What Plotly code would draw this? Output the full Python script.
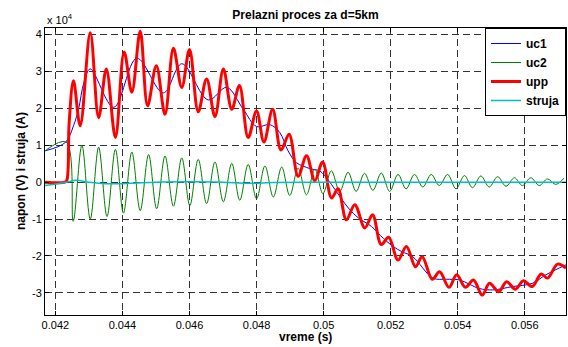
import plotly.graph_objects as go
import numpy as np

# ---- data (voltages in units of 1e4 V, time in s) ----
uc1_t = [0.04169, 0.04230, 0.04254, 0.04269, 0.04285, 0.04304, 0.04374, 0.04443, 0.04522,
         0.04577, 0.04656, 0.04711, 0.04760, 0.04800, 0.04840, 0.04869, 0.04894, 0.04919,
         0.04959, 0.04989, 0.05013, 0.05034, 0.05074, 0.05104, 0.05143, 0.05170, 0.05207,
         0.05233, 0.05266, 0.05326, 0.05366, 0.05405, 0.05464, 0.05504, 0.05563, 0.05623,
         0.05663, 0.05723]
uc1_v = [0.85, 1.08, 1.53, 1.98, 2.70, 3.07, 2.03, 3.36, 2.42,
         3.21, 2.23, 2.57, 1.98, 1.51, 1.56, 1.35, 0.85, 0.53,
         0.37, 0.30, 0.07, -0.20, -0.70, -0.97, -1.20, -1.45, -1.74,
         -1.88, -2.02, -2.60, -2.63, -2.65, -2.88, -2.92, -2.83, -2.74,
         -2.51, -2.24]

uc2_t = [0.04169, 0.04232,
         0.04253, 0.04279, 0.04304, 0.04329, 0.04354, 0.04379, 0.04403, 0.04428,
         0.04453, 0.04478, 0.04502, 0.04527, 0.04552, 0.04577, 0.04601, 0.04626,
         0.04651, 0.04676, 0.04701, 0.04726, 0.04750, 0.04775, 0.04800, 0.04825,
         0.04850, 0.04875, 0.04899, 0.04924, 0.04949, 0.04974, 0.04998, 0.05023,
         0.05048, 0.05073, 0.05097, 0.05122, 0.05147, 0.05172, 0.05197, 0.05222,
         0.05246, 0.05271, 0.05296, 0.05321, 0.05345, 0.05370, 0.05395, 0.05420,
         0.05444, 0.05469, 0.05494, 0.05519, 0.05544, 0.05569, 0.05593, 0.05618,
         0.05643, 0.05668, 0.05692, 0.05717]
uc2_v = [0.85, 1.09,
         -1.06, 1.00, -1.00, 0.95, -0.93, 0.89, -0.84, 0.82,
         -0.77, 0.75, -0.72, 0.71, -0.65, 0.66, -0.63, 0.62,
         -0.58, 0.55, -0.53, 0.51, -0.49, 0.48, -0.45, 0.44,
         -0.40, 0.41, -0.36, 0.38, -0.34, 0.35, -0.31, 0.31,
         -0.25, 0.27, -0.25, 0.24, -0.22, 0.25, -0.25, 0.21,
         -0.18, 0.21, -0.13, 0.21, -0.09, 0.21, -0.18, 0.18,
         -0.15, 0.17, -0.13, 0.15, -0.11, 0.12, -0.09, 0.12,
         -0.09, 0.09, -0.06, 0.11]

upp_t = [0.04169, 0.04228, 0.04234, 0.04241, 0.04254, 0.04274, 0.04304, 0.04329, 0.04352, 0.04379,
         0.04405, 0.04428, 0.04453, 0.04475, 0.04501, 0.04527, 0.04552, 0.04577, 0.04600,
         0.04626, 0.04651, 0.04676, 0.04701, 0.04726, 0.04749, 0.04775, 0.04800, 0.04822,
         0.04848, 0.04873, 0.04897, 0.04924, 0.04949, 0.04974, 0.04997, 0.05024, 0.05043,
         0.05068, 0.05093, 0.05123, 0.05146, 0.05172, 0.05194, 0.05222, 0.05247, 0.05274,
         0.05294, 0.05324, 0.05346, 0.05374, 0.05397, 0.05423, 0.05447, 0.05473, 0.05495,
         0.05522, 0.05546, 0.05572, 0.05596, 0.05622, 0.05649, 0.05668, 0.05698, 0.05723]
upp_v = [0.0, 0.0, 0.05, 1.60, 2.75, 1.53, 4.05, 1.75, 3.07, 1.21,
         3.53, 2.44, 4.09, 2.07, 3.16, 1.84, 3.63, 2.57, 3.60,
         1.91, 2.80, 1.78, 3.07, 1.98, 2.62, 1.21, 1.93, 1.09,
         1.98, 0.87, 1.30, 0.16, 0.72, 0.04, 0.55, -0.43, -0.18,
         -1.02, -0.61, -1.24, -0.88, -1.69, -1.49, -2.11, -1.74, -2.29,
         -2.02, -2.63, -2.43, -2.85, -2.51, -2.85, -2.65, -3.06, -2.74,
         -2.97, -2.70, -2.90, -2.67, -2.83, -2.49, -2.60, -2.22, -2.33]

struja_t = [0.04169, 0.04232, 0.04260, 0.04300, 0.04350, 0.04420, 0.04500, 0.04600,
            0.04700, 0.04780, 0.04850, 0.05000, 0.05723]
struja_v = [-0.09, 0.00, 0.05, 0.00, -0.04, -0.03, 0.00, 0.01,
            0.00, -0.03, -0.01, 0.00, 0.00]

x_ticks = [0.042, 0.044, 0.046, 0.048, 0.050, 0.052, 0.054, 0.056]
x_tick_labels = ["0.042", "0.044", "0.046", "0.048", "0.05", "0.052", "0.054", "0.056"]
y_ticks = [-3, -2, -1, 0, 1, 2, 3, 4]
y_tick_labels = ["-3", "-2", "-1", "0", "1", "2", "3", "4"]
SCALE = 1e4

FONT = "Liberation Sans, Arial, Helvetica, sans-serif"

fig = go.Figure()
fig.add_trace(go.Scatter(x=uc1_t, y=np.array(uc1_v) * SCALE, name="uc1", mode="lines",
                         line=dict(color="#0000ff", width=1, shape="spline", smoothing=1)))
fig.add_trace(go.Scatter(x=uc2_t, y=np.array(uc2_v) * SCALE, name="uc2", mode="lines",
                         line=dict(color="#008000", width=1, shape="spline", smoothing=1)))
fig.add_trace(go.Scatter(x=upp_t, y=np.array(upp_v) * SCALE, name="upp", mode="lines",
                         line=dict(color="#ff0000", width=3, shape="spline", smoothing=1)))
fig.add_trace(go.Scatter(x=struja_t, y=np.array(struja_v) * SCALE, name="struja", mode="lines",
                         line=dict(color="#00bfbf", width=1.5, shape="spline", smoothing=0.8)))

axis_common = dict(
    showline=True, linecolor="black", linewidth=1, mirror="ticks",
    ticks="inside", ticklen=4, tickcolor="black",
    showgrid=True, gridcolor="#333333", gridwidth=1, griddash="7px,4px",
    zeroline=False, tickfont=dict(family=FONT, size=11, color="black"),
)

fig.update_layout(
    width=568, height=347,
    margin=dict(l=45, r=2, t=28, b=32),
    paper_bgcolor="white", plot_bgcolor="white",
    font=dict(family=FONT, color="black"),
    title=dict(text="<b>Prelazni proces za d=5km</b>", x=0.5, xref="paper",
               y=1 - 15 / 347, yref="container", yanchor="middle",
               font=dict(family=FONT, size=12, color="black")),
    xaxis=dict(range=[0.04169, 0.05723], tickvals=x_ticks, ticktext=x_tick_labels, **axis_common),
    yaxis=dict(range=[-3.6 * SCALE, 4.18 * SCALE], tickvals=[v * SCALE for v in y_ticks],
               ticktext=y_tick_labels, **axis_common),
    legend=dict(x=1, y=1, xanchor="right", yanchor="top", bgcolor="white",
                bordercolor="black", borderwidth=1, itemwidth=30,
                font=dict(family=FONT, size=12, color="black", weight="bold"),
                tracegroupgap=0),
    showlegend=True,
    annotations=[
        dict(text="<b>vreme (s)</b>", xref="paper", yref="paper", x=0.5, y=-21.5 / 287,
             xanchor="center", yanchor="middle", showarrow=False,
             font=dict(family=FONT, size=12, color="black")),
        dict(text="<b>napon (V) i struja (A)</b>", xref="paper", yref="paper",
             x=-24.5 / 521, y=0.5, xanchor="center", yanchor="middle", textangle=-90,
             showarrow=False, font=dict(family=FONT, size=12, color="black")),
        dict(text="x 10<sup>4</sup>", xref="paper", yref="paper", x=0.0, y=1.0,
             xanchor="left", yanchor="bottom", showarrow=False,
             font=dict(family=FONT, size=11, color="black")),
    ],
)

fig.write_html("out.html", config={"displayModeBar": False},
               post_script="document.body.style.margin='0';document.body.style.padding='0';"
                           "document.documentElement.style.overflow='hidden';")
